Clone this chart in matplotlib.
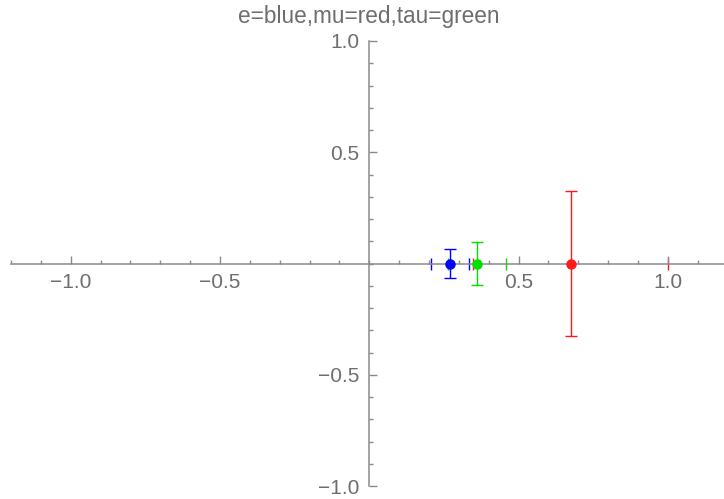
import matplotlib
matplotlib.use("Agg")
import matplotlib.pyplot as plt
from matplotlib.ticker import FixedLocator, FixedFormatter

# lepton points (x, y) with symmetric errors in both directions
names = ["e", "mu", "tau"]
colors = ["#0000ff", "#ff1a1a", "#00e000"]
x_vals = [0.271, 0.674, 0.361]
y_vals = [0.0, 0.0, 0.0]
x_errs = [0.064, 0.326, 0.097]
y_errs = [0.064, 0.325, 0.096]

major_x = [-1.0, -0.5, 0.5, 1.0]
major_x_labels = ["\u22121.0", "\u22120.5", "0.5", "1.0"]
major_y = [-1.0, -0.5, 0.5, 1.0]
major_y_labels = ["\u22121.0", "\u22120.5", "0.5", "1.0"]
minor_ticks = [round(-1.2 + 0.1 * i, 1) for i in range(25)]

plt.rcParams['font.family'] = ['Liberation Sans', 'DejaVu Sans']
axis_gray = "#8a8a8a"
text_gray = "#6e6e6e"

fig = plt.figure(figsize=(7.24, 4.99), dpi=100)
ax = fig.add_axes([11 / 724, 13 / 499, 713 / 724, 445 / 499])

for x, y, xe, ye, c in zip(x_vals, y_vals, x_errs, y_errs, colors):
    # vertical bars
    ax.errorbar(x, y, yerr=ye, fmt='none', ecolor=c, elinewidth=1.0,
                capsize=4.5, capthick=1.0, zorder=2)
    # horizontal bars sit under the axis line, only their caps show
    ax.plot([x - xe, x + xe], [y, y], linestyle='none', marker='|',
            markersize=9, markeredgewidth=1.0, color=c, zorder=2)
    ax.plot(x, y, 'o', color=c, markersize=6.5, zorder=4)

ax.set_xlim(-1.2, 1.188)
ax.set_ylim(-1.0, 1.0)

for side in ['top', 'right']:
    ax.spines[side].set_visible(False)
ax.spines['left'].set_position(('data', 0))
ax.spines['bottom'].set_position(('data', 0))
for side in ['left', 'bottom']:
    ax.spines[side].set_color(axis_gray)
    ax.spines[side].set_linewidth(1.1)
    ax.spines[side].set_zorder(3)
ax.set_axisbelow(False)
ax.patch.set_visible(False)

ax.xaxis.set_major_locator(FixedLocator(major_x))
ax.xaxis.set_major_formatter(FixedFormatter(major_x_labels))
ax.yaxis.set_major_locator(FixedLocator(major_y))
ax.yaxis.set_major_formatter(FixedFormatter(major_y_labels))
ax.xaxis.set_minor_locator(FixedLocator(minor_ticks))
ax.yaxis.set_minor_locator(FixedLocator([t for t in minor_ticks if t >= -1.0]))

ax.tick_params(which='both', direction='in', color=axis_gray, width=1.0,
               labelcolor=text_gray, labelsize=15, pad=7)
ax.tick_params(which='major', length=6)
ax.tick_params(which='minor', length=3)
ax.xaxis.set_zorder(3)
ax.yaxis.set_zorder(3)

fig.text(368.5 / 724, 1 - 16 / 499, "e=blue,mu=red,tau=green", ha='center', va='center',
         fontsize=16.3, color=text_gray)

fig.savefig("out.png", dpi=100)
